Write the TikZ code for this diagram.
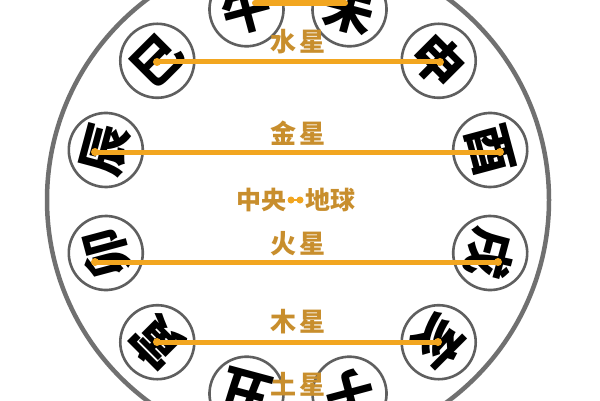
\documentclass[tikz,border=0pt]{standalone}
\usepackage{fontspec}
\usetikzlibrary{calc}
\newfontfamily\cjk{Noto Sans CJK SC}
\definecolor{ringgray}{RGB}{112,112,112}
\definecolor{cgray}{RGB}{95,95,95}
\definecolor{lineor}{RGB}{242,166,32}
\definecolor{labelor}{RGB}{200,142,45}
\tikzset{
  branch/.style={circle, draw=cgray, line width=2.6pt, fill=white, minimum size=74pt, inner sep=0pt,
    font=\cjk\bfseries\fontsize{50}{50}\selectfont, text=black},
  planetline/.style={draw=lineor, line width=5pt, line cap=round},
  enddot/.style={circle, fill=lineor, minimum size=8pt, inner sep=0pt},
  planetlabel/.style={font=\cjk\bfseries\fontsize{26}{26}\selectfont, text=labelor, inner sep=0pt}
}
\begin{document}
\begin{tikzpicture}[x=1pt,y=1pt]
\useasboundingbox (0,0) rectangle (600,400);
\fill[white] (0,0) rectangle (600,400);
\coordinate (O) at (298,198.5);
\node[circle, draw=ringgray, line width=4.5pt, minimum size=502pt, inner sep=0pt] (ring) at (298,200) {};
% twelve branches: top of each character points outward
\node[branch, rotate=15]  (wu)   at ($(O)+(105:199)$) {午};
\node[branch, rotate=-15] (wei)  at ($(O)+(75:199)$)  {未};
\node[branch, rotate=45]  (si)   at ($(O)+(135:199)$) {巳};
\node[branch, rotate=-45] (shen) at ($(O)+(45:199)$)  {申};
\node[branch, rotate=75]  (chen) at ($(O)+(165:199)$) {辰};
\node[branch, rotate=-75] (you)  at ($(O)+(15:199)$)  {酉};
\node[branch, rotate=105] (mao)  at ($(O)+(195:199)$) {卯};
\node[branch, rotate=-105](xu)   at ($(O)+(345:199)$) {戌};
\node[branch, rotate=135] (yin)  at ($(O)+(225:199)$) {寅};
\node[branch, rotate=-135](hai)  at ($(O)+(315:199)$) {亥};
\node[branch, rotate=165] (chou) at ($(O)+(255:199)$) {丑};
\node[branch, rotate=-165](zi)   at ($(O)+(285:199)$) {子};
% line end points
\coordinate (t1) at (255,397);
\coordinate (t2) at (345,397);
\node[enddot] (m1) at (157,338) {};
\node[enddot] (m2) at (440,338) {};
\node[enddot] (v1) at (95,248) {};
\node[enddot] (v2) at (500,248) {};
\node[enddot] (a1) at (95,138) {};
\node[enddot] (a2) at (498,138) {};
\node[enddot] (j1) at (157,58) {};
\node[enddot] (j2) at (438,58) {};
\draw[planetline, line width=6pt] (t1) -- (t2);
\draw[planetline] (m1.center) -- (m2.center);
\draw[planetline] (v1.center) -- (v2.center);
\draw[planetline] (a1.center) -- (a2.center);
\draw[planetline] (j1.center) -- (j2.center);
% labels
\node[planetlabel] (lmer) at (298,358) {水\hspace{4pt}星};
\node[planetlabel] (lven) at (298,267) {金\hspace{4pt}星};
\node[planetlabel] (lmar) at (298,156) {火\hspace{4pt}星};
\node[planetlabel] (ljup) at (298,78)  {木\hspace{4pt}星};
\node[planetlabel] (lsat) at (298,16)  {土\hspace{4pt}星};
% centre
\node[planetlabel, font=\cjk\bfseries\fontsize{25}{25}\selectfont] (zy) at (261,200) {中央};
\node[planetlabel, font=\cjk\bfseries\fontsize{25}{25}\selectfont] (dq) at (330,200) {地球};
\node[enddot, minimum size=7pt] (c1) at (291,200) {};
\node[enddot, minimum size=7pt] (c2) at (300,200) {};
\draw[lineor, line width=2.5pt] (c1.center) -- (c2.center);
\end{tikzpicture}
\end{document}
